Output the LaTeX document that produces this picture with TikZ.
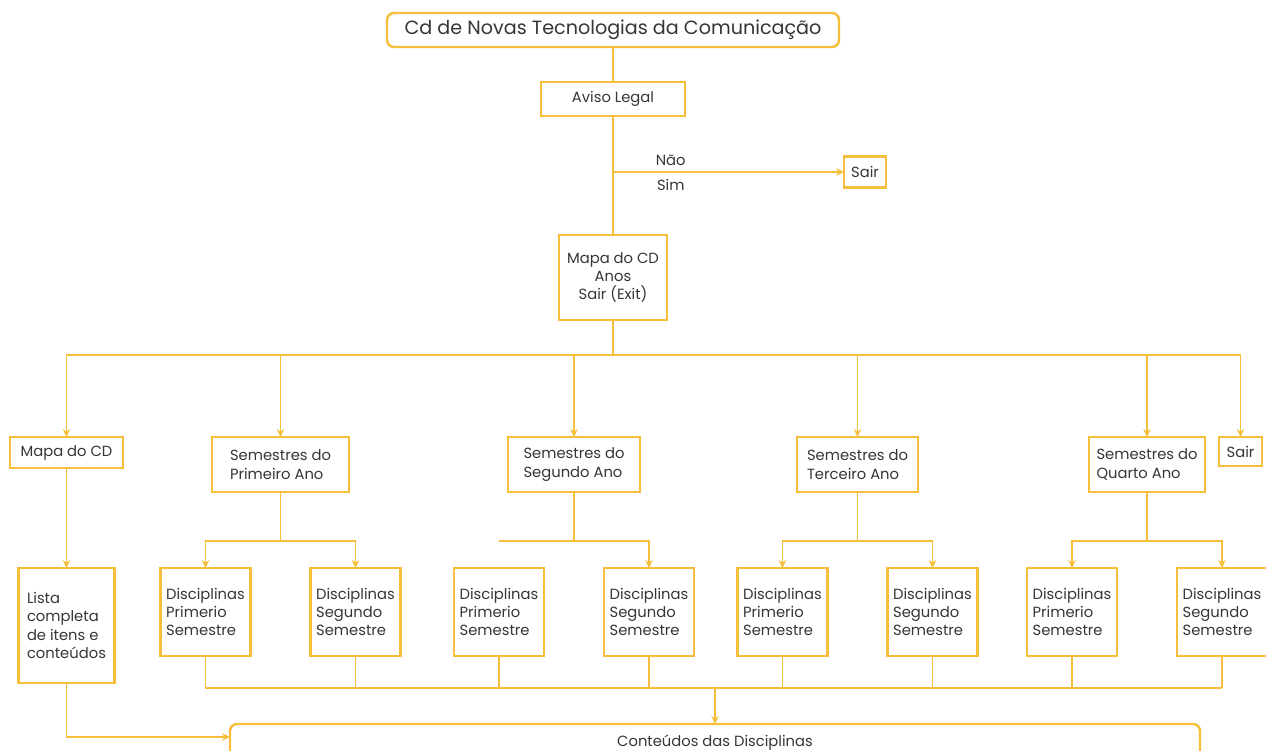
\documentclass[tikz,border=0pt]{standalone}
\usepackage{fontspec}
\setmainfont{Poppins}
\usetikzlibrary{arrows.meta,positioning,calc}
\definecolor{linegold}{HTML}{F5BF3C}
\definecolor{textgrey}{HTML}{363636}

\begin{document}
\begin{tikzpicture}[
  >={Stealth[length=1.6mm,width=1.5mm]},
  every node/.style={font=\fontsize{8.4}{10.4}\selectfont,text=textgrey},
  box/.style={draw=linegold,line width=1.4pt,fill=white,inner sep=2pt,outer sep=0pt,align=center},
  year/.style={box,below=1.64cm of bus,anchor=north,minimum height=1.1cm,align=left},
  disc/.style={box,minimum width=1.8cm,minimum height=1.76cm,align=left},
  link/.style={draw=linegold,line width=1.1pt}
]
  \useasboundingbox (-12.26,0.6) rectangle (13.06,-14.42);
  % top of the menu
  \node[box,rounded corners=4pt,minimum width=9.04cm,minimum height=0.68cm,
    font=\fontsize{10.9}{13}\selectfont] (title) {Cd de Novas Tecnologias da Comunicação};
  \node[box,below=0.7cm of title,minimum width=2.88cm,minimum height=0.68cm] (aviso) {Aviso Legal};
  \coordinate[below=1.12cm of aviso] (choice);
  \node[box,right=4.62cm of choice,minimum width=0.84cm,minimum height=0.62cm] (exit1) {Sair};
  \node[box,below=2.38cm of aviso,minimum width=2.16cm,minimum height=1.7cm] (anos) {Mapa do CD\\Anos\\Sair (Exit)};
  \coordinate[below=0.7cm of anos] (bus);
  % years
  \node[year,xshift=-10.93cm,minimum width=2.26cm,minimum height=0.62cm] (mapacd) {Mapa do CD};
  \node[year,xshift=-6.65cm,minimum width=2.74cm] (sem1) {Semestres do\\Primeiro Ano};
  \node[year,xshift=-0.78cm,minimum width=2.64cm] (sem2) {Semestres do\\Segundo Ano};
  \node[year,xshift=4.89cm,minimum width=2.42cm] (sem3) {Semestres do\\Terceiro Ano};
  \node[year,xshift=10.68cm,minimum width=2.32cm] (sem4) {Semestres do\\Quarto Ano};
  \node[year,xshift=12.55cm,minimum width=0.86cm,minimum height=0.58cm] (sair2) {Sair};
  % semesters
  \node[box,below=2cm of mapacd,minimum width=1.92cm,minimum height=2.3cm,align=left] (lista) {Lista\\completa\\de itens e\\conteúdos};
  \foreach \s in {1,...,4}{
    \node[disc,below=1.52cm of sem\s,xshift=-1.5cm] (dp\s) {Disciplinas\\Primerio\\Semestre};
    \node[disc,below=1.52cm of sem\s,xshift=1.5cm] (ds\s) {Disciplinas\\Segundo\\Semestre};
  }
  \node[box,rounded corners=4pt,minimum width=19.4cm,minimum height=0.76cm] (big) at (2.04,-14.26) {Conteúdos das Disciplinas};

  % connectors
  \draw[link] (title) -- (aviso);
  \draw[link] (aviso) -- (anos);
  \draw[link,->] (choice) -- node[pos=.25,above]{Não} node[pos=.25,below]{Sim} (exit1);
  \draw[link] (anos) -- (bus);
  \draw[link] (mapacd |- bus) -- (sair2 |- bus);
  \foreach \n in {mapacd,sem1,sem2,sem3,sem4,sair2}
    \draw[link,->] (\n |- bus) -- (\n);
  \draw[link,->] (mapacd) -- (lista);
  \foreach \s in {1,3,4}{
    \draw[link,->] (sem\s.south) -- ++(0,-0.98) -| (dp\s);
    \draw[link,->] (sem\s.south) -- ++(0,-0.98) -| (ds\s);
  }
  \coordinate[below=0.98cm of sem2] (fork2);
  \draw[link,->] (sem2) -- (fork2) -| (ds2);
  \draw[link] (fork2) -- (fork2 -| dp2);
  \coordinate[below=0.64cm of dp1] (join);
  \draw[link] (join) -- (join -| ds4);
  \foreach \s in {1,...,4}{
    \draw[link] (dp\s) -- (dp\s |- join);
    \draw[link] (ds\s) -- (ds\s |- join);
  }
  \draw[link,->] (join -| big) -- (big);
  \draw[link,->] (lista) |- ([yshift=1.2mm]big.west);
\end{tikzpicture}
\end{document}
